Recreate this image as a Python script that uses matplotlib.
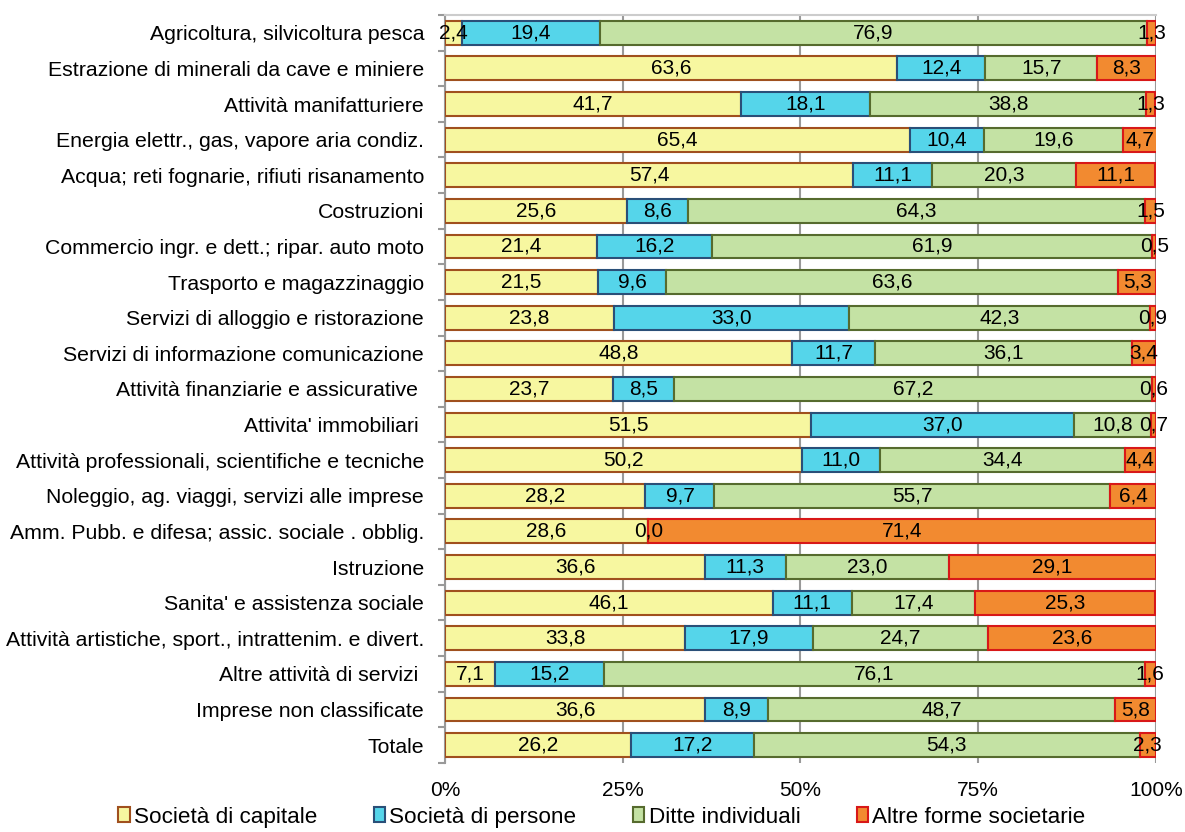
import numpy as np
import matplotlib.pyplot as plt
from matplotlib.patches import Patch

plt.rcParams['font.family'] = ['Liberation Sans', 'DejaVu Sans']

categories = [
    'Agricoltura, silvicoltura pesca',
    'Estrazione di minerali da cave e miniere',
    'Attività manifatturiere',
    'Energia elettr., gas, vapore aria condiz.',
    'Acqua; reti fognarie, rifiuti risanamento',
    'Costruzioni',
    'Commercio ingr. e dett.; ripar. auto moto',
    'Trasporto e magazzinaggio',
    'Servizi di alloggio e ristorazione',
    'Servizi di informazione comunicazione',
    'Attività finanziarie e assicurative ',
    "Attivita' immobiliari ",
    'Attività professionali, scientifiche e tecniche',
    'Noleggio, ag. viaggi, servizi alle imprese',
    'Amm. Pubb. e difesa; assic. sociale . obblig.',
    'Istruzione',
    "Sanita' e assistenza sociale",
    'Attività artistiche, sport., intrattenim. e divert.',
    'Altre attività di servizi ',
    'Imprese non classificate',
    'Totale',
]

capitale = [2.4, 63.6, 41.7, 65.4, 57.4, 25.6, 21.4, 21.5, 23.8, 48.8, 23.7,
            51.5, 50.2, 28.2, 28.6, 36.6, 46.1, 33.8, 7.1, 36.6, 26.2]
persone = [19.4, 12.4, 18.1, 10.4, 11.1, 8.6, 16.2, 9.6, 33.0, 11.7, 8.5,
           37.0, 11.0, 9.7, 0.0, 11.3, 11.1, 17.9, 15.2, 8.9, 17.2]
ditte = [76.9, 15.7, 38.8, 19.6, 20.3, 64.3, 61.9, 63.6, 42.3, 36.1, 67.2,
         10.8, 34.4, 55.7, 0.0, 23.0, 17.4, 24.7, 76.1, 48.7, 54.3]
altre = [1.3, 8.3, 1.3, 4.7, 11.1, 1.5, 0.5, 5.3, 0.9, 3.4, 0.6,
         0.7, 4.4, 6.4, 71.4, 29.1, 25.3, 23.6, 1.6, 5.8, 2.3]

series = ['Società di capitale', 'Società di persone', 'Ditte individuali', 'Altre forme societarie']
fills = ['#F7F7A0', '#55D5EA', '#C4E2A4', '#F28A30']
edges = ['#A0501E', '#2A4F78', '#566B2E', '#D81818']

fig = plt.figure(figsize=(11.85, 8.32), dpi=100)
ax = fig.add_axes([0.3755, 0.083, 0.6, 0.899])

y = np.arange(len(categories))
left = np.zeros(len(categories))
for vals, name, fc, ec in zip([capitale, persone, ditte, altre], series, fills, edges):
    vals = np.array(vals)
    ax.barh(y, vals, left=left, height=0.67, color=fc, edgecolor=ec,
            linewidth=1.5, label=name, zorder=3)
    for yi, (l, v) in enumerate(zip(left, vals)):
        if name == 'Ditte individuali' and v == 0:
            continue
        ax.text(l + v / 2, yi, f'{v:.1f}'.replace('.', ','), ha='center', va='center',
                fontsize=15, color='black', zorder=4)
    left = left + vals

ax.set_xlim(0, 100)
ax.set_ylim(len(categories) - 0.5, -0.5)
ax.set_xticks([0, 25, 50, 75, 100])
ax.set_xticklabels(['0%', '25%', '50%', '75%', '100%'], fontsize=15)
ax.tick_params(axis='x', length=0, pad=13)

ax.set_yticks(y)
ax.set_yticklabels(categories, fontsize=15.3)
ax.set_yticks(np.arange(len(categories) + 1) - 0.5, minor=True)
ax.tick_params(axis='y', which='major', length=0, pad=15)
ax.tick_params(axis='y', which='minor', length=5, color='#999999', width=1.5)

ax.grid(axis='x', color='#999999', linewidth=1.5, zorder=0)
for s in ['right', 'bottom']:
    ax.spines[s].set_visible(False)
ax.spines['left'].set_color('#999999')
ax.spines['left'].set_linewidth(1.5)
ax.spines['top'].set_color('#CCCCCC')
ax.spines['top'].set_linewidth(1.5)

handles = [Patch(facecolor=fc, edgecolor=ec, linewidth=1.5) for fc, ec in zip(fills, edges)]
fig.legend(handles, series, loc='lower center', bbox_to_anchor=(0.508, -0.019), ncol=4,
           frameon=False, fontsize=16.2, handlelength=0.5, handleheight=0.65,
           handletextpad=0.2, columnspacing=2.5)

plt.savefig('out.png', dpi=100)
